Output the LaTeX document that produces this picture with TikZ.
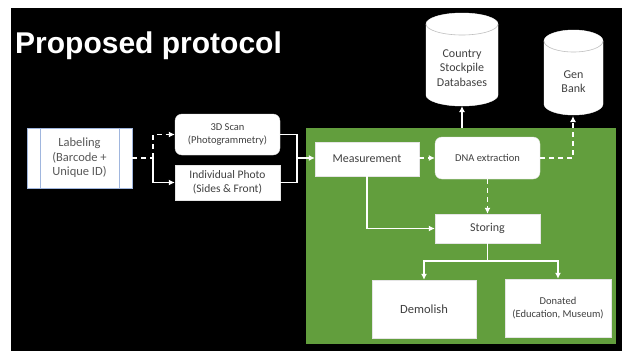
\documentclass[tikz,border=0pt]{standalone}
\usepackage{fontspec}
\setmainfont{Carlito}
\newfontfamily\titlefont{Liberation Sans}
\usetikzlibrary{arrows.meta}
\definecolor{bggreen}{RGB}{98,158,61}
\definecolor{txtgray}{RGB}{64,64,64}
\definecolor{lblgray}{RGB}{89,89,89}
\definecolor{lblborder}{RGB}{160,182,222}
\tikzset{
  boxnode/.style={draw=white!90!black, fill=white, text=txtgray, align=center, inner sep=0pt},
  roundbox/.style={boxnode, rounded corners=7pt},
  conn/.style={draw=white, line width=1.3pt},
  arr/.style={conn, -{Latex[length=6pt,width=6pt]}},
  dashline/.style={conn, dash pattern=on 5pt off 4pt},
  darr/.style={dashline, -{Latex[length=6pt,width=6pt]}},
  cyl/.style={fill=white, draw=white},
  cyltext/.style={text=txtgray, align=center, inner sep=0pt}
}
\begin{document}
\begin{tikzpicture}[x=1pt,y=-1pt]
\useasboundingbox (0,0) rectangle (622,351);
\fill[white] (0,0) rectangle (622,351);
\fill[black] (11,8) rectangle (622,351);
% title
\node[anchor=base west, text=white, font=\titlefont\bfseries\fontsize{30}{32}\selectfont, inner sep=0pt] (title) at (15,53) {Proposed protocol};
% green area
\node[fill=bggreen, minimum width=310pt, minimum height=216pt, inner sep=0pt] (green) at (461,236) {};
% cylinders
\path[cyl] (426,24) -- (426,95) arc (180:0:36 and 11) -- (498,24) arc (0:-180:36 and 11) -- cycle;
\draw[black!25, line width=0.6pt] (426,24) arc (180:0:36 and 11);
\node[cyltext, font=\fontsize{12}{14.5}\selectfont] (csd) at (462,68) {Country\\Stockpile\\Databases};
\coordinate (csdb) at (462,106);
\path[cyl] (544,41) -- (544,104) arc (180:0:29.5 and 11) -- (603,41) arc (0:-180:29.5 and 11) -- cycle;
\draw[black!25, line width=0.6pt] (544,41) arc (180:0:29.5 and 11);
\node[cyltext, font=\fontsize{12}{14}\selectfont] (gen) at (573.5,82) {Gen\\Bank};
\coordinate (genb) at (573,116);
% boxes
\node[boxnode, draw=lblborder, text=lblgray, minimum width=105pt, minimum height=60pt, font=\fontsize{12.5}{14.5}\selectfont] (label) at (79.5,158) {Labeling\\(Barcode +\\Unique ID)};
\draw[lblborder, line width=0.6pt] ([xshift=13pt]label.north west) -- ([xshift=13pt]label.south west);
\draw[lblborder, line width=0.6pt] ([xshift=-13pt]label.north east) -- ([xshift=-13pt]label.south east);
\node[roundbox, minimum width=105pt, minimum height=41pt, font=\fontsize{10.5}{13}\selectfont] (scan) at (227.5,134.5) {3D Scan\\(Photogrammetry)};
\node[boxnode, minimum width=105pt, minimum height=35pt, font=\fontsize{11.5}{14}\selectfont] (photo) at (227.5,182.5) {Individual Photo\\(Sides \& Front)};
\node[boxnode, minimum width=104pt, minimum height=34pt, font=\fontsize{12}{14}\selectfont] (meas) at (367,159) {Measurement};
\node[roundbox, minimum width=105pt, minimum height=42pt, font=\fontsize{10.5}{13}\selectfont] (dna) at (487.5,158) {DNA extraction};
\node[boxnode, minimum width=105pt, minimum height=29pt, font=\fontsize{12}{14}\selectfont] (store) at (487.5,228.5) {Storing};
\node[boxnode, minimum width=104pt, minimum height=58pt, font=\fontsize{12.5}{14}\selectfont] (demo) at (424,309) {Demolish};
\node[boxnode, minimum width=106pt, minimum height=58pt, font=\fontsize{10.5}{13}\selectfont] (don) at (558,308) {Donated\\(Education, Museum)};
% connectors
\coordinate (j1) at (153,158);
\coordinate (j2) at (297,158);
\coordinate (j3) at (487.5,261);
\draw[dashline] (label.east) -- (j1);
\draw[darr] (j1) |- (scan.west);
\draw[arr] (j1) |- (photo.west);
\draw[conn] (scan.east) -| (j2);
\draw[conn] (photo.east) -| (j2);
\draw[arr] (j2) -- (meas.west |- j2);
\draw[darr] (meas.east |- dna.west) -- (dna.west);
\draw[darr] (dna.east) -| (genb);
\draw[arr] (green.north -| csdb) -- (csdb);
\draw[arr] (meas.south) |- (store.west);
\draw[darr] (dna.south) -- (store.north);
\draw[conn] (store.south) -- (j3);
\draw[arr] (j3) -| (demo.north);
\draw[arr] (j3) -| (don.north);
\end{tikzpicture}
\end{document}
